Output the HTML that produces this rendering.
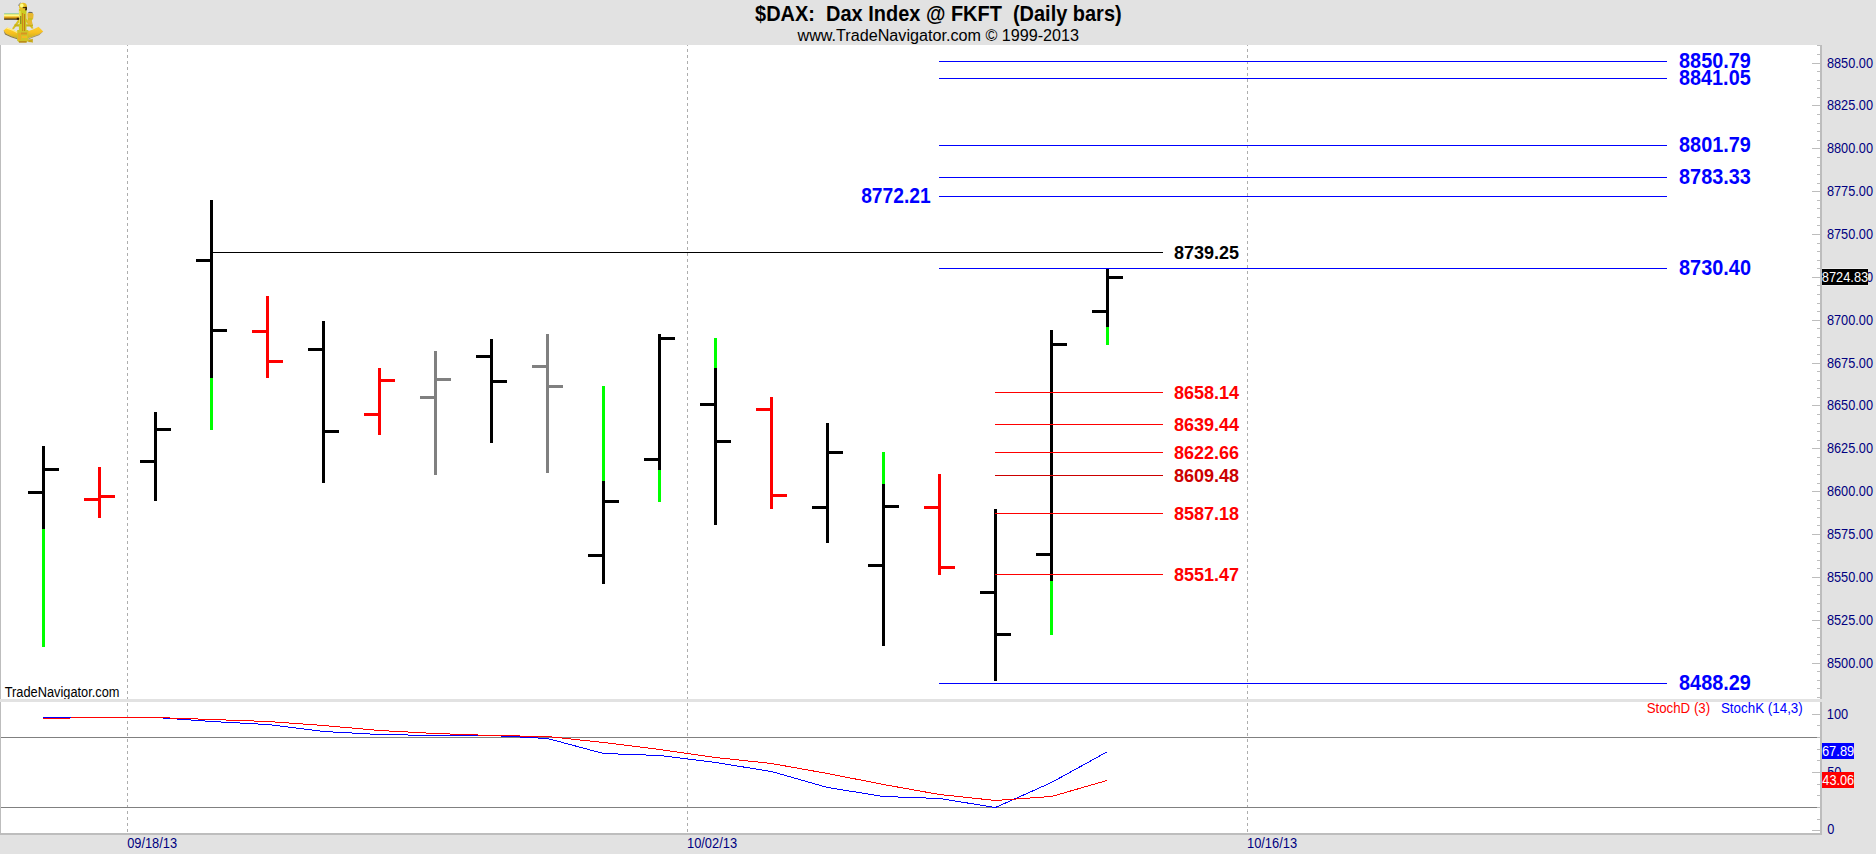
<!DOCTYPE html>
<html><head><meta charset="utf-8"><title>$DAX Daily bars</title>
<style>
html,body{margin:0;padding:0;background:#e2e2e2;}
body{width:1876px;height:854px;overflow:hidden;}
svg{display:block;}
text{font-family:"Liberation Sans",Arial,sans-serif;}
</style></head>
<body>
<svg width="1876" height="854" viewBox="0 0 1876 854" shape-rendering="crispEdges">
<rect x="0" y="0" width="1876" height="854" fill="#e2e2e2"/>
<rect x="1" y="45" width="1819" height="654" fill="#ffffff"/>
<rect x="1" y="702" width="1819" height="131" fill="#ffffff"/>
<rect x="0" y="45" width="1" height="790" fill="#bdbdbd"/>
<rect x="1820" y="45" width="2" height="654" fill="#bdbdbd"/>
<rect x="1820" y="702" width="2" height="133" fill="#bdbdbd"/>
<rect x="0" y="833" width="1822" height="2" fill="#bdbdbd"/>
<line x1="127.5" y1="45" x2="127.5" y2="699" stroke="#adadad" stroke-width="1" stroke-dasharray="3 3" stroke-dashoffset="2"/>
<line x1="127.5" y1="702" x2="127.5" y2="833" stroke="#adadad" stroke-width="1" stroke-dasharray="3 3" stroke-dashoffset="-1"/>
<line x1="687.5" y1="45" x2="687.5" y2="699" stroke="#adadad" stroke-width="1" stroke-dasharray="3 3" stroke-dashoffset="2"/>
<line x1="687.5" y1="702" x2="687.5" y2="833" stroke="#adadad" stroke-width="1" stroke-dasharray="3 3" stroke-dashoffset="-1"/>
<line x1="1247.5" y1="45" x2="1247.5" y2="699" stroke="#adadad" stroke-width="1" stroke-dasharray="3 3" stroke-dashoffset="2"/>
<line x1="1247.5" y1="702" x2="1247.5" y2="833" stroke="#adadad" stroke-width="1" stroke-dasharray="3 3" stroke-dashoffset="-1"/>
<rect x="1817" y="45" width="3" height="1" fill="#bdbdbd"/>
<rect x="1817" y="54" width="3" height="1" fill="#bdbdbd"/>
<rect x="1812" y="63" width="8" height="1" fill="#bdbdbd"/>
<text x="1826.95" y="68" font-size="14" fill="#000080" textLength="46.10" lengthAdjust="spacingAndGlyphs">8850.00</text>
<rect x="1817" y="71" width="3" height="1" fill="#bdbdbd"/>
<rect x="1817" y="80" width="3" height="1" fill="#bdbdbd"/>
<rect x="1817" y="88" width="3" height="1" fill="#bdbdbd"/>
<rect x="1817" y="97" width="3" height="1" fill="#bdbdbd"/>
<rect x="1812" y="105" width="8" height="1" fill="#bdbdbd"/>
<text x="1826.95" y="110" font-size="14" fill="#000080" textLength="46.10" lengthAdjust="spacingAndGlyphs">8825.00</text>
<rect x="1817" y="114" width="3" height="1" fill="#bdbdbd"/>
<rect x="1817" y="123" width="3" height="1" fill="#bdbdbd"/>
<rect x="1817" y="131" width="3" height="1" fill="#bdbdbd"/>
<rect x="1817" y="140" width="3" height="1" fill="#bdbdbd"/>
<rect x="1812" y="148" width="8" height="1" fill="#bdbdbd"/>
<text x="1826.95" y="153" font-size="14" fill="#000080" textLength="46.10" lengthAdjust="spacingAndGlyphs">8800.00</text>
<rect x="1817" y="157" width="3" height="1" fill="#bdbdbd"/>
<rect x="1817" y="165" width="3" height="1" fill="#bdbdbd"/>
<rect x="1817" y="174" width="3" height="1" fill="#bdbdbd"/>
<rect x="1817" y="183" width="3" height="1" fill="#bdbdbd"/>
<rect x="1812" y="191" width="8" height="1" fill="#bdbdbd"/>
<text x="1826.95" y="196" font-size="14" fill="#000080" textLength="46.10" lengthAdjust="spacingAndGlyphs">8775.00</text>
<rect x="1817" y="200" width="3" height="1" fill="#bdbdbd"/>
<rect x="1817" y="208" width="3" height="1" fill="#bdbdbd"/>
<rect x="1817" y="217" width="3" height="1" fill="#bdbdbd"/>
<rect x="1817" y="225" width="3" height="1" fill="#bdbdbd"/>
<rect x="1812" y="234" width="8" height="1" fill="#bdbdbd"/>
<text x="1826.95" y="239" font-size="14" fill="#000080" textLength="46.10" lengthAdjust="spacingAndGlyphs">8750.00</text>
<rect x="1817" y="243" width="3" height="1" fill="#bdbdbd"/>
<rect x="1817" y="251" width="3" height="1" fill="#bdbdbd"/>
<rect x="1817" y="260" width="3" height="1" fill="#bdbdbd"/>
<rect x="1817" y="268" width="3" height="1" fill="#bdbdbd"/>
<rect x="1812" y="277" width="8" height="1" fill="#bdbdbd"/>
<text x="1826.95" y="282" font-size="14" fill="#000080" textLength="46.10" lengthAdjust="spacingAndGlyphs">8725.00</text>
<rect x="1817" y="285" width="3" height="1" fill="#bdbdbd"/>
<rect x="1817" y="294" width="3" height="1" fill="#bdbdbd"/>
<rect x="1817" y="303" width="3" height="1" fill="#bdbdbd"/>
<rect x="1817" y="311" width="3" height="1" fill="#bdbdbd"/>
<rect x="1812" y="320" width="8" height="1" fill="#bdbdbd"/>
<text x="1826.95" y="325" font-size="14" fill="#000080" textLength="46.10" lengthAdjust="spacingAndGlyphs">8700.00</text>
<rect x="1817" y="328" width="3" height="1" fill="#bdbdbd"/>
<rect x="1817" y="337" width="3" height="1" fill="#bdbdbd"/>
<rect x="1817" y="345" width="3" height="1" fill="#bdbdbd"/>
<rect x="1817" y="354" width="3" height="1" fill="#bdbdbd"/>
<rect x="1812" y="363" width="8" height="1" fill="#bdbdbd"/>
<text x="1826.95" y="368" font-size="14" fill="#000080" textLength="46.10" lengthAdjust="spacingAndGlyphs">8675.00</text>
<rect x="1817" y="371" width="3" height="1" fill="#bdbdbd"/>
<rect x="1817" y="380" width="3" height="1" fill="#bdbdbd"/>
<rect x="1817" y="388" width="3" height="1" fill="#bdbdbd"/>
<rect x="1817" y="397" width="3" height="1" fill="#bdbdbd"/>
<rect x="1812" y="405" width="8" height="1" fill="#bdbdbd"/>
<text x="1826.95" y="410" font-size="14" fill="#000080" textLength="46.10" lengthAdjust="spacingAndGlyphs">8650.00</text>
<rect x="1817" y="414" width="3" height="1" fill="#bdbdbd"/>
<rect x="1817" y="423" width="3" height="1" fill="#bdbdbd"/>
<rect x="1817" y="431" width="3" height="1" fill="#bdbdbd"/>
<rect x="1817" y="440" width="3" height="1" fill="#bdbdbd"/>
<rect x="1812" y="448" width="8" height="1" fill="#bdbdbd"/>
<text x="1826.95" y="453" font-size="14" fill="#000080" textLength="46.10" lengthAdjust="spacingAndGlyphs">8625.00</text>
<rect x="1817" y="457" width="3" height="1" fill="#bdbdbd"/>
<rect x="1817" y="465" width="3" height="1" fill="#bdbdbd"/>
<rect x="1817" y="474" width="3" height="1" fill="#bdbdbd"/>
<rect x="1817" y="483" width="3" height="1" fill="#bdbdbd"/>
<rect x="1812" y="491" width="8" height="1" fill="#bdbdbd"/>
<text x="1826.95" y="496" font-size="14" fill="#000080" textLength="46.10" lengthAdjust="spacingAndGlyphs">8600.00</text>
<rect x="1817" y="500" width="3" height="1" fill="#bdbdbd"/>
<rect x="1817" y="508" width="3" height="1" fill="#bdbdbd"/>
<rect x="1817" y="517" width="3" height="1" fill="#bdbdbd"/>
<rect x="1817" y="525" width="3" height="1" fill="#bdbdbd"/>
<rect x="1812" y="534" width="8" height="1" fill="#bdbdbd"/>
<text x="1826.95" y="539" font-size="14" fill="#000080" textLength="46.10" lengthAdjust="spacingAndGlyphs">8575.00</text>
<rect x="1817" y="543" width="3" height="1" fill="#bdbdbd"/>
<rect x="1817" y="551" width="3" height="1" fill="#bdbdbd"/>
<rect x="1817" y="560" width="3" height="1" fill="#bdbdbd"/>
<rect x="1817" y="568" width="3" height="1" fill="#bdbdbd"/>
<rect x="1812" y="577" width="8" height="1" fill="#bdbdbd"/>
<text x="1826.95" y="582" font-size="14" fill="#000080" textLength="46.10" lengthAdjust="spacingAndGlyphs">8550.00</text>
<rect x="1817" y="585" width="3" height="1" fill="#bdbdbd"/>
<rect x="1817" y="594" width="3" height="1" fill="#bdbdbd"/>
<rect x="1817" y="603" width="3" height="1" fill="#bdbdbd"/>
<rect x="1817" y="611" width="3" height="1" fill="#bdbdbd"/>
<rect x="1812" y="620" width="8" height="1" fill="#bdbdbd"/>
<text x="1826.95" y="625" font-size="14" fill="#000080" textLength="46.10" lengthAdjust="spacingAndGlyphs">8525.00</text>
<rect x="1817" y="628" width="3" height="1" fill="#bdbdbd"/>
<rect x="1817" y="637" width="3" height="1" fill="#bdbdbd"/>
<rect x="1817" y="645" width="3" height="1" fill="#bdbdbd"/>
<rect x="1817" y="654" width="3" height="1" fill="#bdbdbd"/>
<rect x="1812" y="663" width="8" height="1" fill="#bdbdbd"/>
<text x="1826.95" y="668" font-size="14" fill="#000080" textLength="46.10" lengthAdjust="spacingAndGlyphs">8500.00</text>
<rect x="1817" y="671" width="3" height="1" fill="#bdbdbd"/>
<rect x="1817" y="680" width="3" height="1" fill="#bdbdbd"/>
<rect x="1817" y="688" width="3" height="1" fill="#bdbdbd"/>
<rect x="1817" y="697" width="3" height="1" fill="#bdbdbd"/>
<rect x="1822" y="268" width="46" height="1" fill="#eeeeee"/>
<rect x="1822" y="285" width="46" height="1" fill="#eeeeee"/>
<rect x="1822" y="269" width="46" height="16" fill="#000000"/>
<text x="1821.75" y="282" font-size="14" fill="#ffffff" textLength="46.51" lengthAdjust="spacingAndGlyphs">8724.83</text>
<rect x="42" y="446" width="3" height="83" fill="#000000"/>
<rect x="42" y="529" width="3" height="118" fill="#00ff00"/>
<rect x="28" y="491" width="14" height="3" fill="#000000"/>
<rect x="45" y="468" width="14" height="3" fill="#000000"/>
<rect x="98" y="467" width="3" height="51" fill="#ff0000"/>
<rect x="84" y="498" width="14" height="3" fill="#ff0000"/>
<rect x="101" y="495" width="14" height="3" fill="#ff0000"/>
<rect x="154" y="412" width="3" height="89" fill="#000000"/>
<rect x="140" y="460" width="14" height="3" fill="#000000"/>
<rect x="157" y="428" width="14" height="3" fill="#000000"/>
<rect x="210" y="200" width="3" height="178" fill="#000000"/>
<rect x="210" y="378" width="3" height="52" fill="#00ff00"/>
<rect x="196" y="259" width="14" height="3" fill="#000000"/>
<rect x="213" y="329" width="14" height="3" fill="#000000"/>
<rect x="266" y="296" width="3" height="82" fill="#ff0000"/>
<rect x="252" y="330" width="14" height="3" fill="#ff0000"/>
<rect x="269" y="360" width="14" height="3" fill="#ff0000"/>
<rect x="322" y="321" width="3" height="162" fill="#000000"/>
<rect x="308" y="348" width="14" height="3" fill="#000000"/>
<rect x="325" y="430" width="14" height="3" fill="#000000"/>
<rect x="378" y="368" width="3" height="67" fill="#ff0000"/>
<rect x="364" y="413" width="14" height="3" fill="#ff0000"/>
<rect x="381" y="379" width="14" height="3" fill="#ff0000"/>
<rect x="434" y="351" width="3" height="124" fill="#808080"/>
<rect x="420" y="396" width="14" height="3" fill="#808080"/>
<rect x="437" y="378" width="14" height="3" fill="#808080"/>
<rect x="490" y="339" width="3" height="104" fill="#000000"/>
<rect x="476" y="355" width="14" height="3" fill="#000000"/>
<rect x="493" y="380" width="14" height="3" fill="#000000"/>
<rect x="546" y="334" width="3" height="139" fill="#808080"/>
<rect x="532" y="365" width="14" height="3" fill="#808080"/>
<rect x="549" y="385" width="14" height="3" fill="#808080"/>
<rect x="602" y="386" width="3" height="95" fill="#00ff00"/>
<rect x="602" y="481" width="3" height="103" fill="#000000"/>
<rect x="588" y="554" width="14" height="3" fill="#000000"/>
<rect x="605" y="500" width="14" height="3" fill="#000000"/>
<rect x="658" y="334" width="3" height="136" fill="#000000"/>
<rect x="658" y="470" width="3" height="32" fill="#00ff00"/>
<rect x="644" y="458" width="14" height="3" fill="#000000"/>
<rect x="661" y="337" width="14" height="3" fill="#000000"/>
<rect x="714" y="338" width="3" height="30" fill="#00ff00"/>
<rect x="714" y="368" width="3" height="157" fill="#000000"/>
<rect x="700" y="403" width="14" height="3" fill="#000000"/>
<rect x="717" y="440" width="14" height="3" fill="#000000"/>
<rect x="770" y="397" width="3" height="112" fill="#ff0000"/>
<rect x="756" y="408" width="14" height="3" fill="#ff0000"/>
<rect x="773" y="494" width="14" height="3" fill="#ff0000"/>
<rect x="826" y="423" width="3" height="120" fill="#000000"/>
<rect x="812" y="506" width="14" height="3" fill="#000000"/>
<rect x="829" y="451" width="14" height="3" fill="#000000"/>
<rect x="882" y="452" width="3" height="32" fill="#00ff00"/>
<rect x="882" y="484" width="3" height="162" fill="#000000"/>
<rect x="868" y="564" width="14" height="3" fill="#000000"/>
<rect x="885" y="505" width="14" height="3" fill="#000000"/>
<rect x="938" y="474" width="3" height="101" fill="#ff0000"/>
<rect x="924" y="506" width="14" height="3" fill="#ff0000"/>
<rect x="941" y="566" width="14" height="3" fill="#ff0000"/>
<rect x="994" y="509" width="3" height="172" fill="#000000"/>
<rect x="980" y="591" width="14" height="3" fill="#000000"/>
<rect x="997" y="633" width="14" height="3" fill="#000000"/>
<rect x="1050" y="330" width="3" height="251" fill="#000000"/>
<rect x="1050" y="581" width="3" height="54" fill="#00ff00"/>
<rect x="1036" y="553" width="14" height="3" fill="#000000"/>
<rect x="1053" y="343" width="14" height="3" fill="#000000"/>
<rect x="1106" y="269" width="3" height="58" fill="#000000"/>
<rect x="1106" y="327" width="3" height="18" fill="#00ff00"/>
<rect x="1092" y="310" width="14" height="3" fill="#000000"/>
<rect x="1109" y="276" width="14" height="3" fill="#000000"/>
<rect x="939" y="61" width="728" height="1" fill="#0000ff"/>
<rect x="939" y="78" width="728" height="1" fill="#0000ff"/>
<rect x="939" y="145" width="728" height="1" fill="#0000ff"/>
<rect x="939" y="177" width="728" height="1" fill="#0000ff"/>
<rect x="939" y="196" width="728" height="1" fill="#0000ff"/>
<rect x="939" y="268" width="728" height="1" fill="#0000ff"/>
<rect x="939" y="683" width="728" height="1" fill="#0000ff"/>
<rect x="211" y="252" width="952" height="1" fill="#000000"/>
<rect x="995" y="392" width="168" height="1" fill="#ff0000"/>
<rect x="995" y="424" width="168" height="1" fill="#ff0000"/>
<rect x="995" y="452" width="168" height="1" fill="#ff0000"/>
<rect x="995" y="475" width="168" height="1" fill="#cc0000"/>
<rect x="995" y="513" width="168" height="1" fill="#ff0000"/>
<rect x="995" y="574" width="168" height="1" fill="#ff0000"/>
<text x="1679.05" y="68" font-size="21.5" font-weight="bold" fill="#0000ff" textLength="71.81" lengthAdjust="spacingAndGlyphs">8850.79</text>
<text x="1679.05" y="85" font-size="21.5" font-weight="bold" fill="#0000ff" textLength="71.62" lengthAdjust="spacingAndGlyphs">8841.05</text>
<text x="1679.05" y="152" font-size="21.5" font-weight="bold" fill="#0000ff" textLength="71.81" lengthAdjust="spacingAndGlyphs">8801.79</text>
<text x="1679.05" y="184" font-size="21.5" font-weight="bold" fill="#0000ff" textLength="71.81" lengthAdjust="spacingAndGlyphs">8783.33</text>
<text x="861.17" y="203" font-size="21.5" font-weight="bold" fill="#0000ff" textLength="69.49" lengthAdjust="spacingAndGlyphs">8772.21</text>
<text x="1679.05" y="275" font-size="21.5" font-weight="bold" fill="#0000ff" textLength="71.91" lengthAdjust="spacingAndGlyphs">8730.40</text>
<text x="1679.05" y="690" font-size="21.5" font-weight="bold" fill="#0000ff" textLength="71.81" lengthAdjust="spacingAndGlyphs">8488.29</text>
<text x="1174" y="259" font-size="18" font-weight="bold" fill="#000000" text-anchor="start">8739.25</text>
<text x="1174" y="399" font-size="18" font-weight="bold" fill="#ff0000" text-anchor="start">8658.14</text>
<text x="1174" y="431" font-size="18" font-weight="bold" fill="#ff0000" text-anchor="start">8639.44</text>
<text x="1174" y="459" font-size="18" font-weight="bold" fill="#ff0000" text-anchor="start">8622.66</text>
<text x="1174" y="482" font-size="18" font-weight="bold" fill="#cc0000" text-anchor="start">8609.48</text>
<text x="1174" y="520" font-size="18" font-weight="bold" fill="#ff0000" text-anchor="start">8587.18</text>
<text x="1174" y="581" font-size="18" font-weight="bold" fill="#ff0000" text-anchor="start">8551.47</text>
<text x="4.73" y="697" font-size="14" fill="#000000" textLength="114.73" lengthAdjust="spacingAndGlyphs">TradeNavigator.com</text>
<rect x="0" y="699" width="1820" height="3" fill="#e2e2e2"/>
<rect x="1" y="737" width="1816" height="1" fill="#808080"/>
<rect x="1" y="807" width="1816" height="1" fill="#808080"/>
<polyline points="43.0,717.5 99.5,717.5 155.5,717.5 211.5,721.5 267.5,724.5 323.5,731.5 379.5,734.5 435.5,735.5 491.5,735.5 547.5,738.5 603.5,753.5 659.5,755.5 715.5,762.5 771.5,771.5 827.5,787.5 883.5,796.5 939.5,798.5 995.5,807.5 1051.5,782.5 1107.0,751.9" fill="none" stroke="#0000ff" stroke-width="1"/>
<polyline points="43.0,718.5 99.5,717.5 155.5,717.5 211.5,719.5 267.5,721.5 323.5,725.5 379.5,730.5 435.5,733.5 491.5,735.5 547.5,736.5 603.5,742.5 659.5,749.5 715.5,757.5 771.5,763.5 827.5,773.5 883.5,784.5 939.5,794.5 995.5,800.5 1051.5,796.5 1107.0,780.5" fill="none" stroke="#ff0000" stroke-width="1"/>
<text x="1646.64" y="713" font-size="14" fill="#ff0000" textLength="63.53" lengthAdjust="spacingAndGlyphs">StochD (3)</text>
<text x="1720.93" y="713" font-size="14" fill="#0000ff" textLength="81.83" lengthAdjust="spacingAndGlyphs">StochK (14,3)</text>
<rect x="1812" y="714" width="8" height="1" fill="#bdbdbd"/>
<text x="1826.79" y="719" font-size="14" fill="#000080" textLength="21.37" lengthAdjust="spacingAndGlyphs">100</text>
<rect x="1817" y="725" width="3" height="1" fill="#bdbdbd"/>
<rect x="1817" y="737" width="3" height="1" fill="#bdbdbd"/>
<rect x="1817" y="749" width="3" height="1" fill="#bdbdbd"/>
<rect x="1817" y="760" width="3" height="1" fill="#bdbdbd"/>
<rect x="1812" y="772" width="8" height="1" fill="#bdbdbd"/>
<text x="1827.25" y="777" font-size="14" fill="#000080" textLength="14.25" lengthAdjust="spacingAndGlyphs">50</text>
<rect x="1817" y="784" width="3" height="1" fill="#bdbdbd"/>
<rect x="1817" y="795" width="3" height="1" fill="#bdbdbd"/>
<rect x="1817" y="807" width="3" height="1" fill="#bdbdbd"/>
<rect x="1817" y="819" width="3" height="1" fill="#bdbdbd"/>
<rect x="1812" y="830" width="8" height="1" fill="#bdbdbd"/>
<text x="1827.34" y="834" font-size="14" fill="#000080" textLength="7.12" lengthAdjust="spacingAndGlyphs">0</text>
<rect x="1822" y="743" width="32" height="16" fill="#0000ff"/>
<text x="1821.95" y="756" font-size="14" fill="#ffffff" textLength="32.32" lengthAdjust="spacingAndGlyphs">67.89</text>
<rect x="1822" y="772" width="32" height="16" fill="#ff0000"/>
<text x="1822.33" y="785" font-size="14" fill="#ffffff" textLength="31.85" lengthAdjust="spacingAndGlyphs">43.06</text>
<text x="127.14" y="848" font-size="14" fill="#000080" textLength="49.90" lengthAdjust="spacingAndGlyphs">09/18/13</text>
<text x="686.99" y="848" font-size="14" fill="#000080" textLength="50.06" lengthAdjust="spacingAndGlyphs">10/02/13</text>
<text x="1246.99" y="848" font-size="14" fill="#000080" textLength="50.06" lengthAdjust="spacingAndGlyphs">10/16/13</text>
<text x="755.12" y="21" font-size="21.5" font-weight="bold" fill="#000000" textLength="366.51" lengthAdjust="spacingAndGlyphs">$DAX:&#160; Dax Index @ FKFT&#160; (Daily bars)</text>
<text x="797.5" y="41" font-size="16" font-weight="normal" fill="#000000" text-anchor="start" textLength="281.5" lengthAdjust="spacingAndGlyphs">www.TradeNavigator.com &#169; 1999-2013</text>

<g id="logo" shape-rendering="geometricPrecision">
  <defs>
    <linearGradient id="gt" x1="0" y1="0" x2="0" y2="1">
      <stop offset="0" stop-color="#78c8c0"/>
      <stop offset="0.16" stop-color="#d8e070"/>
      <stop offset="0.35" stop-color="#ffff90"/>
      <stop offset="0.6" stop-color="#f4b420"/>
      <stop offset="0.8" stop-color="#a07010"/>
      <stop offset="1" stop-color="#1a1400"/>
    </linearGradient>
    <linearGradient id="gw" x1="0" y1="0" x2="0" y2="1">
      <stop offset="0" stop-color="#ffd030"/>
      <stop offset="0.5" stop-color="#f8c020"/>
      <stop offset="1" stop-color="#c8b020"/>
    </linearGradient>
  </defs>
  <!-- frame bars -->
  <path d="M19,18.5 L12,28.6 L13.8,29.2 L20,21 Z" fill="#d8c020"/>
  <path d="M26.5,18.5 L33.6,28.2 L31.8,28.8 L25.5,21 Z" fill="#d8c020"/>
  <rect x="14.5" y="24.3" width="18.5" height="2.2" fill="#c8b018"/>
  <!-- arc wings -->
  <path d="M3.6,30.4 L7.2,27.6 L12,29.2 L18,32.2 L18,38.6 L12,36.4 L6,33.8 Z" fill="url(#gw)"/>
  <path d="M7.2,27.6 L12,29.2 L18,32.2 L18,33.4 L12,30.6 L6.2,28.6 Z" fill="#fff8a0" opacity="0.8"/>
  <path d="M3.6,30.4 L6,33.8 L12,36.4 L18,38.6 L18,39.4 L11,37.2 L5,34.6 Z" fill="#6a5000" opacity="0.7"/>
  <path d="M43.2,31.4 L38.6,26.8 L33,29.4 L27.5,31.2 L27.5,38.4 L33,36.4 L38.5,34.4 Z" fill="url(#gw)"/>
  <path d="M43.2,31.4 L38.5,34.4 L33,36.4 L28,38.8 L28,39.6 L33.5,37.2 L39,35.2 Z" fill="#7a5a00" opacity="0.6"/>
  <!-- central base -->
  <path d="M17.2,30 L28.4,30 L28.4,40.6 L26.6,42.6 L19,42.6 L17.2,40.6 Z" fill="#d0c428"/>
  <rect x="18" y="33" width="3" height="7" fill="#f0a820" opacity="0.8"/>
  <rect x="21" y="32.5" width="6" height="2" fill="#d88a20" opacity="0.8"/>
  <rect x="22" y="36" width="5" height="2" fill="#f8b820" opacity="0.9"/>
  <rect x="19" y="41.2" width="7.5" height="1.4" fill="#b07010" opacity="0.8"/>
  <!-- small handle -->
  <path d="M28.2,39.6 L31.4,39.2 L32.8,38.8 L32.8,42.8 L31.4,42.2 L28.2,42 Z" fill="#c8a818"/>
  <!-- column -->
  <rect x="18.9" y="9" width="7.6" height="22" fill="#cccc22"/>
  <rect x="19.2" y="11" width="1.3" height="13" fill="#fff070" opacity="0.8"/>
  <rect x="22.1" y="13" width="1" height="18" fill="#d07818" opacity="0.9"/>
  <rect x="24.1" y="14" width="1" height="17" fill="#c06818" opacity="0.9"/>
  <rect x="20.3" y="16" width="0.9" height="8" fill="#404010" opacity="0.7"/>
  <!-- knob -->
  <ellipse cx="23" cy="6.6" rx="4" ry="3.9" fill="#e8c028"/>
  <ellipse cx="21.8" cy="5.6" rx="1.8" ry="2" fill="#ffff80"/>
  <path d="M26.2,6.5 Q27.6,8.6 26.4,10.6 L25,10.2 Q26,8.4 25.2,7 Z" fill="#201800"/>
  <rect x="22.8" y="7" width="4" height="1.2" fill="#301a00" opacity="0.85"/>
  <path d="M18.6,6 Q18.8,3.6 20.6,2.8" stroke="#606060" stroke-width="0.8" fill="none" opacity="0.7"/>
  <!-- telescope -->
  <rect x="4.1" y="13.1" width="14.8" height="6.6" fill="url(#gt)"/>
  <rect x="16.8" y="17.8" width="2.4" height="1.9" fill="#301800"/>
  <!-- right mirror arm -->
  <path d="M27.3,13.6 L29.4,12.2 L32,12.4 L33.6,14.2 L33.2,18.6 L31.8,20.6 L32.6,24 L30.4,25 L27.6,24.2 L27.6,19 Z" fill="#e8b830"/>
  <path d="M28,18 L32.4,18 L32,20.2 L28,20.2 Z" fill="#c8c020" opacity="0.9"/>
  <path d="M27.6,12.8 L29.4,11.8 L32,12 L33.2,13.2 L31.5,12.9 L29.4,12.9 Z" fill="#505050" opacity="0.8"/>
</g>

</svg>
</body></html>
